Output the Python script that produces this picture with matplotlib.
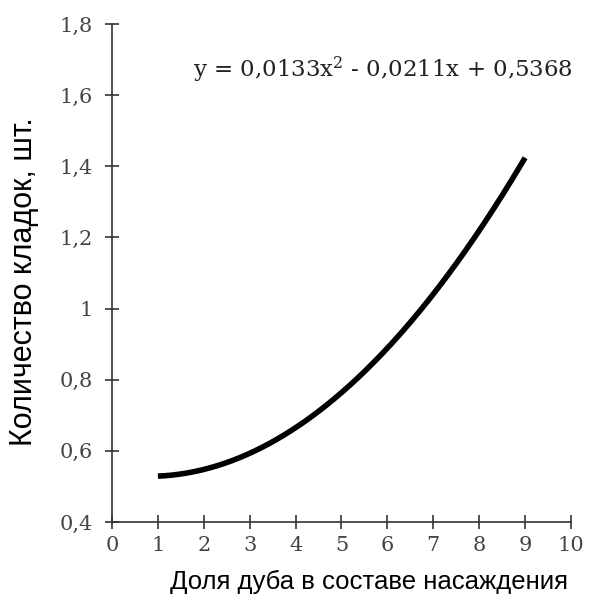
import matplotlib.pyplot as plt
import numpy as np

plt.rcParams['mathtext.fontset'] = 'dejavuserif'

# trend line coefficients (a, b, c for a*x^2 + b*x + c)
coeffs = [0.0133, -0.0211, 0.5368]
x_start, x_end = 1, 9

x_ticks = list(range(0, 11))
y_ticks = [0.4, 0.6, 0.8, 1.0, 1.2, 1.4, 1.6, 1.8]
y_tick_labels = ['0,4', '0,6', '0,8', '1', '1,2', '1,4', '1,6', '1,8']

equation = 'y = 0,0133x$^2$ - 0,0211x + 0,5368'
x_label = 'Доля дуба в составе насаждения'
y_label = 'Количество кладок, шт.'

fig = plt.figure(figsize=(6.05, 6.01), dpi=100)
ax = fig.add_axes([0.1851, 0.1314, 0.7587, 0.8286])

xs = np.linspace(x_start, x_end, 200)
ax.plot(xs, np.polyval(coeffs, xs), color='black', lw=4, solid_capstyle='butt')

ax.set_xlim(0, 10)
ax.set_ylim(0.4, 1.8)
ax.set_xticks(x_ticks)
ax.set_xticklabels([str(t) for t in x_ticks])
ax.set_yticks(y_ticks)
ax.set_yticklabels(y_tick_labels)

for s in ['top', 'right']:
    ax.spines[s].set_visible(False)
for s in ['left', 'bottom']:
    ax.spines[s].set_color('#333333')
    ax.spines[s].set_linewidth(1.2)
    ax.spines[s].set_clip_on(False)

ax.tick_params(direction='inout', length=10, width=1.2, color='#333333',
               labelcolor='#444444', labelsize=15)
ax.tick_params(axis='x', pad=5)
ax.tick_params(axis='y', pad=9)
for lab in ax.get_xticklabels() + ax.get_yticklabels():
    lab.set_family('DejaVu Serif')

ax.text(0.590, 0.908, equation, transform=ax.transAxes, fontsize=16.5,
        family='DejaVu Serif', color='#222222', ha='center', va='center')

fig.text(0.610, 0.031, x_label, fontsize=18.5, family='Liberation Sans',
         ha='center', va='center')
fig.text(0.039, 0.531, y_label, fontsize=22, family='Liberation Sans',
         rotation=90, ha='center', va='center')

fig.savefig('out.png', dpi=100)
